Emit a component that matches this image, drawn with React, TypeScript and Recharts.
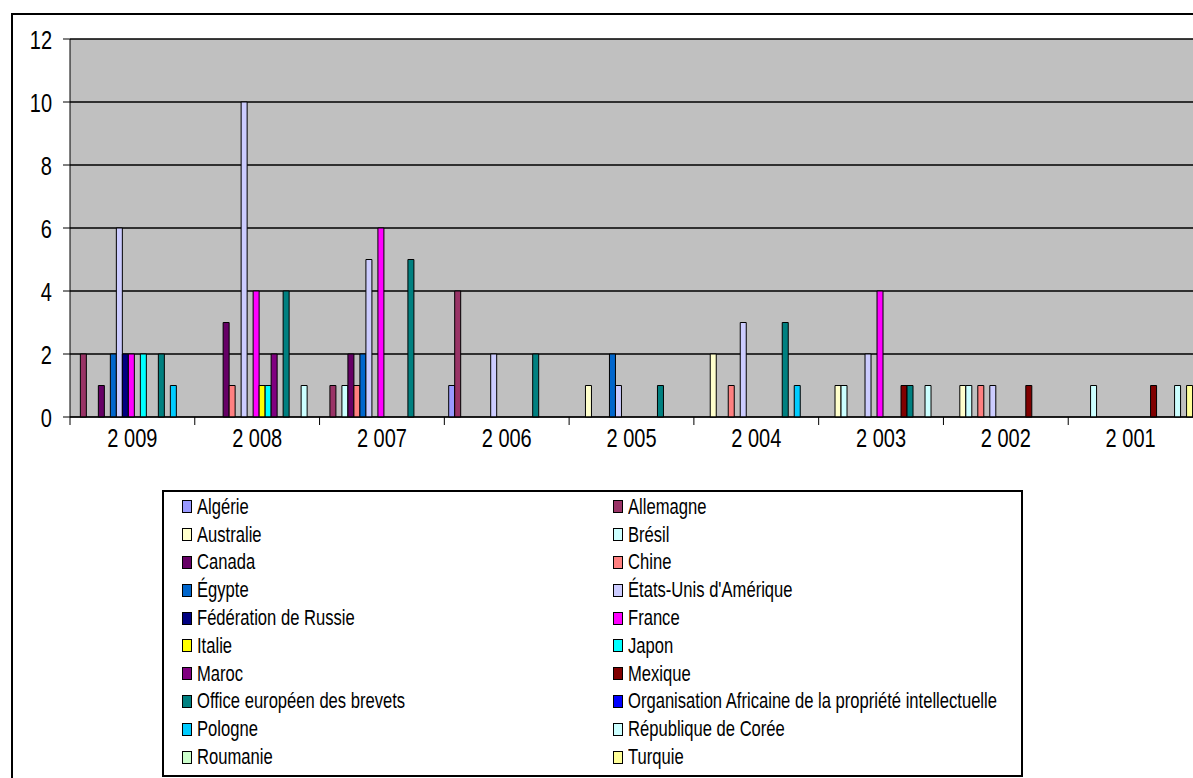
import { Bar, BarChart, XAxis, YAxis, CartesianGrid, Legend } from "recharts";

const years = ["2 009", "2 008", "2 007", "2 006", "2 005", "2 004", "2 003", "2 002", "2 001"];
const yTicks = [0, 2, 4, 6, 8, 10, 12];

// one array per office, values in the same order as years
const algerie = [0, 0, 0, 1, 0, 0, 0, 0, 0];
const allemagne = [2, 0, 1, 4, 0, 0, 0, 0, 0];
const australie = [0, 0, 0, 0, 1, 2, 1, 1, 0];
const bresil = [0, 0, 1, 0, 0, 0, 1, 1, 1];
const canada = [1, 3, 2, 0, 0, 0, 0, 0, 0];
const chine = [0, 1, 1, 0, 0, 1, 0, 1, 0];
const egypte = [2, 0, 2, 0, 2, 0, 0, 0, 0];
const etatsUnis = [6, 10, 5, 2, 1, 3, 2, 1, 0];
const russie = [2, 0, 0, 0, 0, 0, 0, 0, 0];
const france = [2, 4, 6, 0, 0, 0, 4, 0, 0];
const italie = [0, 1, 0, 0, 0, 0, 0, 0, 0];
const japon = [2, 1, 0, 0, 0, 0, 0, 0, 0];
const maroc = [0, 2, 0, 0, 0, 0, 0, 0, 0];
const mexique = [0, 0, 0, 0, 0, 0, 1, 1, 1];
const oeb = [2, 4, 5, 2, 1, 3, 1, 0, 0];
const oapi = [0, 0, 0, 0, 0, 0, 0, 0, 0];
const pologne = [1, 0, 0, 0, 0, 1, 0, 0, 0];
const coree = [0, 1, 0, 0, 0, 0, 1, 0, 1];
const roumanie = [0, 0, 0, 0, 0, 0, 0, 0, 0];
const turquie = [0, 0, 0, 0, 0, 0, 0, 0, 1];

const seriesNames = [
  "Algérie",
  "Allemagne",
  "Australie",
  "Brésil",
  "Canada",
  "Chine",
  "Égypte",
  "États-Unis d'Amérique",
  "Fédération de Russie",
  "France",
  "Italie",
  "Japon",
  "Maroc",
  "Mexique",
  "Office européen des brevets",
  "Organisation Africaine de la propriété intellectuelle",
  "Pologne",
  "République de Corée",
  "Roumanie",
  "Turquie",
];

const seriesValues = [
  algerie, allemagne, australie, bresil, canada, chine, egypte, etatsUnis, russie, france,
  italie, japon, maroc, mexique, oeb, oapi, pologne, coree, roumanie, turquie,
];

const seriesColors = [
  "#9999FF", "#993366", "#FFFFCC", "#CCFFFF", "#660066", "#FF8080", "#0066CC", "#CCCCFF", "#000080", "#FF00FF",
  "#FFFF00", "#00FFFF", "#800080", "#800000", "#008080", "#0000FF", "#00CCFF", "#CCFFFF", "#CCFFCC", "#FFFF99",
];

const chartData = years.map((year, i) => {
  const row: Record<string, string | number> = { year };
  seriesNames.forEach((name, s) => {
    row[name] = seriesValues[s][i];
  });
  return row;
});

const FONT = "'Liberation Sans', Arial, sans-serif";

function XTick({ x, y, payload }: any) {
  const half = payload?.offset || 62.4;
  return (
    <g>
      <line x1={x - half} x2={x - half} y1={y} y2={y + 8} stroke="#000" />
      <text
        transform={`translate(${x},${y + 21}) scale(1,1.3)`}
        textAnchor="middle"
        dy="0.36em"
        fontSize={20}
        fontFamily={FONT}
        fill="#000"
      >
        {payload.value}
      </text>
    </g>
  );
}

function YTick({ x, y, payload }: any) {
  return (
    <text
      transform={`translate(${x},${y + 1}) scale(1,1.3)`}
      textAnchor="end"
      dy="0.36em"
      fontSize={20}
      fontFamily={FONT}
      fill="#000"
    >
      {payload.value}
    </text>
  );
}

function LegendBox() {
  return (
    <div
      style={{
        boxSizing: "border-box",
        width: "100%",
        height: "100%",
        border: "2px solid #000",
        background: "#fff",
        padding: "1px 0 0 18px",
        display: "grid",
        gridTemplateColumns: "431px 1fr",
        gridAutoRows: "27.8px",
        fontFamily: FONT,
        fontSize: 16.6,
        color: "#000",
      }}
    >
      {seriesNames.map((name, i) => (
        <div key={name} style={{ display: "flex", alignItems: "center", whiteSpace: "nowrap" }}>
          <span
            style={{
              boxSizing: "border-box",
              width: 10,
              height: 13,
              background: seriesColors[i],
              border: "1px solid #000",
              marginRight: 5,
              flex: "none",
            }}
          />
          <span style={{ display: "inline-block", transform: "scaleY(1.38)" }}>{name}</span>
        </div>
      ))}
    </div>
  );
}

export default function App() {
  return (
    <div
      style={{
        position: "absolute",
        left: 0,
        top: 0,
        width: 1193,
        height: 778,
        overflow: "hidden",
        background: "#fff",
      }}
    >
      <div
        style={{
          position: "absolute",
          left: 11,
          top: 13,
          width: 1250,
          height: 850,
          border: "2px solid #000",
        }}
      />
      <div style={{ position: "absolute", left: 0, top: 0 }}>
        <BarChart
          width={1193}
          height={778}
          data={chartData}
          margin={{ top: 39, right: 0, bottom: 331, left: 0 }}
          barCategoryGap="3.49%"
          barGap={0}
        >
          <CartesianGrid fill="#C0C0C0" stroke="#000" strokeWidth={1.5} vertical={false} />
          <XAxis
            dataKey="year"
            height={30}
            tickSize={0}
            tickMargin={0}
            tickLine={false}
            axisLine={{ stroke: "#000" }}
            tick={<XTick />}
            interval={0}
          />
          <YAxis
            width={70}
            domain={[0, 12]}
            ticks={yTicks}
            tickSize={7}
            tickMargin={11}
            tickLine={{ stroke: "#000" }}
            axisLine={{ stroke: "#000" }}
            tick={<YTick />}
            interval={0}
          />
          <Legend
            layout="vertical"
            align="center"
            verticalAlign="middle"
            content={<LegendBox />}
            wrapperStyle={{ left: 162, top: 490, width: 861, height: 287 }}
          />
          {seriesNames.map((name, i) => (
            <Bar
              key={name}
              dataKey={name}
              fill={seriesColors[i]}
              stroke="#000"
              strokeWidth={1}
              isAnimationActive={false}
            />
          ))}
        </BarChart>
      </div>
    </div>
  );
}
